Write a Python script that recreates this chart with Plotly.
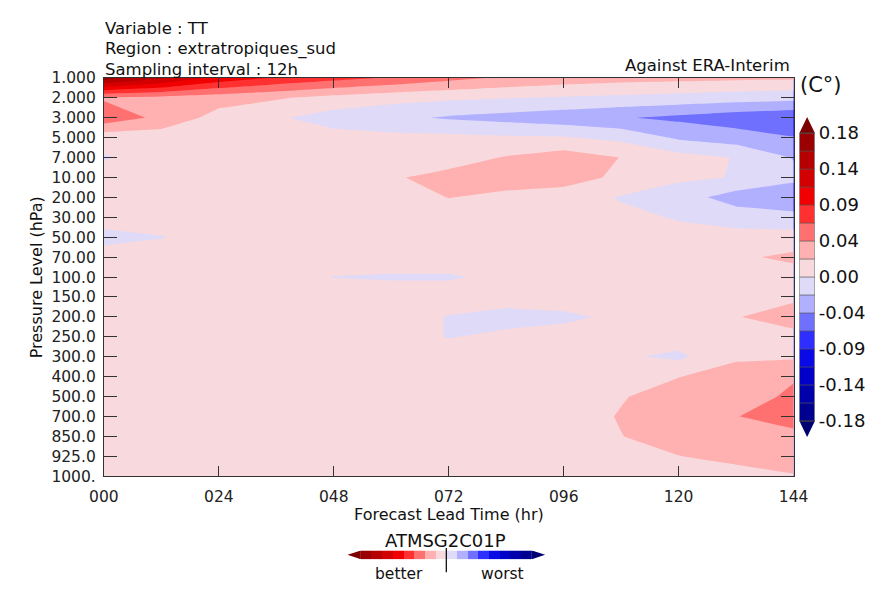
import plotly.graph_objects as go

W, H = 883, 590
FONT = "DejaVu Sans"

# Forecast lead times (hours) at 12 h sampling
lead_hours = [0, 12, 24, 36, 48, 60, 72, 84, 96, 108, 120, 132, 144]
lead_ticks = [0, 24, 48, 72, 96, 120, 144]
lead_labels = ["000", "024", "048", "072", "096", "120", "144"]

# Pressure levels, top of atmosphere first
pressure_labels = ["1.000", "2.000", "3.000", "5.000", "7.000", "10.00", "20.00",
                   "30.00", "50.00", "70.00", "100.0", "150.0", "200.0", "250.0",
                   "300.0", "400.0", "500.0", "700.0", "850.0", "925.0", "1000."]

# TT score difference (C), one list per pressure level, one value per lead time
tt_1hpa = [0.170, 0.140, 0.105, 0.088, 0.076, 0.065, 0.052, 0.042, 0.035, 0.031, 0.029, 0.027, 0.026]
tt_2hpa = [0.042, 0.038, 0.032, 0.025, 0.015, 0.008, 0.004, 0.001, -0.002, -0.005, -0.008, -0.012, -0.015]
tt_3hpa = [0.060, 0.039, 0.014, 0.003, -0.010, -0.017, -0.025, -0.030, -0.036, -0.043, -0.050, -0.058, -0.064]
tt_5hpa = [0.009, 0.010, 0.010, 0.010, 0.008, 0.006, 0.006, 0.003, 0.002, -0.006, -0.026, -0.034, -0.044]
tt_7hpa = [-0.002, 0.010, 0.012, 0.012, 0.012, 0.012, 0.012, 0.024, 0.034, 0.022, 0.008, -0.001, -0.024]
tt_10hpa = [0.010, 0.010, 0.010, 0.010, 0.012, 0.020, 0.030, 0.031, 0.032, 0.018, 0.004, -0.001, -0.015]
tt_20hpa = [0.010, 0.010, 0.010, 0.010, 0.010, 0.012, 0.023, 0.018, 0.012, -0.002, -0.012, -0.033, -0.045]
tt_30hpa = [0.018, 0.012, 0.010, 0.010, 0.010, 0.010, 0.010, 0.010, 0.010, 0.006, -0.002, -0.010, -0.013]
tt_50hpa = [-0.012, -0.001, 0.010, 0.010, 0.010, 0.010, 0.010, 0.010, 0.010, 0.010, 0.008, 0.008, 0.008]
tt_70hpa = [0.018, 0.012, 0.010, 0.010, 0.010, 0.010, 0.010, 0.010, 0.010, 0.010, 0.012, 0.018, 0.028]
tt_100hpa = [0.010, 0.010, 0.010, 0.008, -0.0005, -0.002, -0.002, 0.004, 0.010, 0.010, 0.010, 0.010, 0.010]
tt_150hpa = [0.010, 0.010, 0.010, 0.010, 0.010, 0.010, 0.010, 0.010, 0.010, 0.010, 0.010, 0.010, 0.017]
tt_200hpa = [0.010, 0.010, 0.010, 0.010, 0.010, 0.010, -0.001, -0.008, -0.004, 0.004, 0.012, 0.021, 0.036]
tt_250hpa = [0.010, 0.010, 0.010, 0.010, 0.010, 0.010, -0.001, 0.005, 0.008, 0.010, 0.010, 0.012, 0.0135]
tt_300hpa = [0.010, 0.010, 0.010, 0.010, 0.010, 0.010, 0.010, 0.010, 0.010, 0.003, -0.0045, 0.020, 0.019]
tt_400hpa = [0.010, 0.010, 0.010, 0.010, 0.010, 0.010, 0.010, 0.010, 0.010, 0.015, 0.022, 0.030, 0.044]
tt_500hpa = [0.010, 0.010, 0.010, 0.010, 0.010, 0.010, 0.010, 0.010, 0.012, 0.021, 0.032, 0.040, 0.047]
tt_700hpa = [0.010, 0.010, 0.010, 0.010, 0.010, 0.010, 0.010, 0.010, 0.012, 0.024, 0.034, 0.044, 0.060]
tt_850hpa = [0.010, 0.010, 0.010, 0.010, 0.010, 0.010, 0.010, 0.010, 0.012, 0.022, 0.032, 0.038, 0.035]
tt_925hpa = [0.010, 0.010, 0.010, 0.010, 0.010, 0.010, 0.010, 0.010, 0.010, 0.014, 0.022, 0.030, 0.032]
tt_1000hpa = [0.010, 0.010, 0.010, 0.010, 0.010, 0.010, 0.010, 0.010, 0.010, 0.010, 0.012, 0.012, 0.021]

tt_rows = [tt_1hpa, tt_2hpa, tt_3hpa, tt_5hpa, tt_7hpa, tt_10hpa, tt_20hpa, tt_30hpa,
           tt_50hpa, tt_70hpa, tt_100hpa, tt_150hpa, tt_200hpa, tt_250hpa, tt_300hpa,
           tt_400hpa, tt_500hpa, tt_700hpa, tt_850hpa, tt_925hpa, tt_1000hpa]

# Contour levels and the colour of each filled band (below first level ... above last)
level_start, level_end, level_step = -0.18, 0.18, 0.0225
band_colors = ["#000070", "#000090", "#0000aa", "#0000c8", "#0a0ae6", "#2e2eff",
               "#7070ff", "#b0b0ff", "#dedaf8", "#f8dade", "#ffb0b0", "#ff7070",
               "#ff3030", "#f00000", "#d20000", "#b60000", "#9a0000", "#7c0000"]
cbar_tickvals = [0.18, 0.135, 0.09, 0.045, 0.0, -0.045, -0.09, -0.135, -0.18]
cbar_ticktext = ["0.18", "0.14", "0.09", "0.04", "0.00", "-0.04", "-0.09", "-0.14", "-0.18"]

n_levels = 17
level_edges = [level_start + i * level_step for i in range(n_levels)]
band_mids = [(a + b) / 2 for a, b in zip(level_edges[:-1], level_edges[1:])]
nb = len(band_colors) - 1
colorscale = [[k / nb, c] for k, c in enumerate(band_colors)]
zlo, zhi = level_start - level_step / 2, level_end + level_step / 2


def px_x(p):
    return p / W


def px_y(p):
    return 1 - p / H


fig = go.Figure()

fig.add_trace(go.Contour(
    x=lead_hours, y=list(range(len(pressure_labels))), z=tt_rows,
    autocontour=False,
    contours=dict(start=level_start, end=level_end, size=level_step,
                  coloring="fill", showlines=False),
    colorscale=colorscale, showscale=False, line=dict(width=0, smoothing=0),
    xaxis="x", yaxis="y", hoverinfo="skip",
))

# vertical colour key
fig.add_trace(go.Heatmap(
    x=[0, 1], y=level_edges, z=[[m] for m in band_mids],
    colorscale=colorscale, zmin=zlo, zmax=zhi, showscale=False,
    xaxis="x2", yaxis="y2", hoverinfo="skip",
))

# horizontal better/worst key (positive on the left)
fig.add_trace(go.Heatmap(
    x=level_edges, y=[0, 1], z=[band_mids],
    colorscale=colorscale, zmin=zlo, zmax=zhi, showscale=False,
    xaxis="x3", yaxis="y3", hoverinfo="skip",
))

tick_font = dict(family=FONT, size=15.5, color="#222")
shapes = []

# arrows and separators of the vertical key
arrow_v = 0.2
shapes.append(dict(type="path", xref="x2", yref="y2", layer="above",
                   path=f"M 0,{level_end} L 1,{level_end} L 0.5,{arrow_v} Z",
                   fillcolor=band_colors[-1], line=dict(width=0)))
shapes.append(dict(type="path", xref="x2", yref="y2", layer="above",
                   path=f"M 0,{level_start} L 1,{level_start} L 0.5,{-arrow_v} Z",
                   fillcolor=band_colors[0], line=dict(width=0)))
for e in level_edges:
    shapes.append(dict(type="line", xref="x2", yref="y2", x0=0, x1=1, y0=e, y1=e,
                       line=dict(color="#555", width=0.7)))
shapes.append(dict(type="rect", xref="x2", yref="y2", x0=0, x1=1,
                   y0=level_start, y1=level_end, line=dict(color="#444", width=0.8)))

# arrows of the horizontal key
arrow_h = 0.208
shapes.append(dict(type="path", xref="x3", yref="y3", layer="above",
                   path=f"M {level_end},0 L {level_end},1 L {arrow_h},0.5 Z",
                   fillcolor=band_colors[-1], line=dict(width=0)))
shapes.append(dict(type="path", xref="x3", yref="y3", layer="above",
                   path=f"M {level_start},0 L {level_start},1 L {-arrow_h},0.5 Z",
                   fillcolor=band_colors[0], line=dict(width=0)))
# better | worst divider
shapes.append(dict(type="line", xref="paper", yref="paper",
                   x0=px_x(446.5), x1=px_x(446.5), y0=px_y(556), y1=px_y(581),
                   line=dict(color="#111", width=1.3)))

ann = []


def label(text, x, y, size, xanchor="center", yanchor="middle", angle=0):
    ann.append(dict(text=text, x=px_x(x), y=px_y(y), xref="paper", yref="paper",
                    showarrow=False, xanchor=xanchor, yanchor=yanchor, textangle=angle,
                    font=dict(family=FONT, size=size, color="#111")))


label("Variable : TT", 91, 20, 16.5, xanchor="left")
label("Region : extratropiques_sud", 91, 41.5, 16.5, xanchor="left")
label("Sampling interval : 12h", 91, 62, 16.5, xanchor="left")
label("Against ERA-Interim", 804, 58, 16.5, xanchor="right")
label("(C°)", 811, 78, 21, xanchor="left")
label("Forecast Lead Time (hr)", 449, 521, 16)
label("Pressure Level (hPa)", 22, 276.5, 16, angle=-90)
label("ATMSG2C01P", 446, 548, 18)
label("better", 397, 583, 15.5)
label("worst", 505, 583, 15.5)

plot_l, plot_r, plot_t, plot_b = 92, 806, 71, 482
cb_l, cb_r, cb_t, cb_b = 812, 828, 111.5, 441.5
hb_l, hb_r, hb_t, hb_b = 344.2, 548.8, 558.5, 567.5

fig.update_layout(
    width=W, height=H,
    margin=dict(l=0, r=0, t=0, b=0),
    paper_bgcolor="white", plot_bgcolor="white",
    showlegend=False,
    font=dict(family=FONT, color="#222"),
    xaxis=dict(domain=[px_x(plot_l), px_x(plot_r)], range=[0, 144],
               tickvals=lead_ticks, ticktext=lead_labels, ticks="inside", ticklen=10,
               tickcolor="#333", tickwidth=1, mirror="ticks", showline=True,
               linecolor="#333", linewidth=1, showgrid=False, zeroline=False,
               tickfont=tick_font, ticklabelstandoff=6),
    yaxis=dict(domain=[px_y(plot_b), px_y(plot_t)], range=[len(pressure_labels) - 1, 0],
               tickvals=list(range(len(pressure_labels))), ticktext=pressure_labels,
               ticks="inside", ticklen=13, tickcolor="#333", tickwidth=1,
               mirror="ticks", showline=True, linecolor="#333", linewidth=1,
               showgrid=False, zeroline=False, tickfont=tick_font, ticklabelstandoff=4),
    xaxis2=dict(domain=[px_x(cb_l), px_x(cb_r)], range=[0, 1], visible=False,
                anchor="y2"),
    yaxis2=dict(domain=[px_y(cb_b), px_y(cb_t)], range=[-arrow_v, arrow_v],
                anchor="x2", side="right", tickvals=cbar_tickvals, ticktext=cbar_ticktext,
                ticks="", showline=False, showgrid=False, zeroline=False,
                tickfont=dict(family=FONT, size=18, color="#111"), ticklabelstandoff=3),
    xaxis3=dict(domain=[px_x(hb_l), px_x(hb_r)], range=[arrow_h, -arrow_h],
                visible=False, anchor="y3"),
    yaxis3=dict(domain=[px_y(hb_b), px_y(hb_t)], range=[0, 1], visible=False,
                anchor="x3"),
    shapes=shapes,
    annotations=ann,
)

# the page itself carries no body margin so the figure sits at the window origin
fig.write_html("out.html",
               post_script="document.body.style.margin='0';document.body.style.padding='0';")
